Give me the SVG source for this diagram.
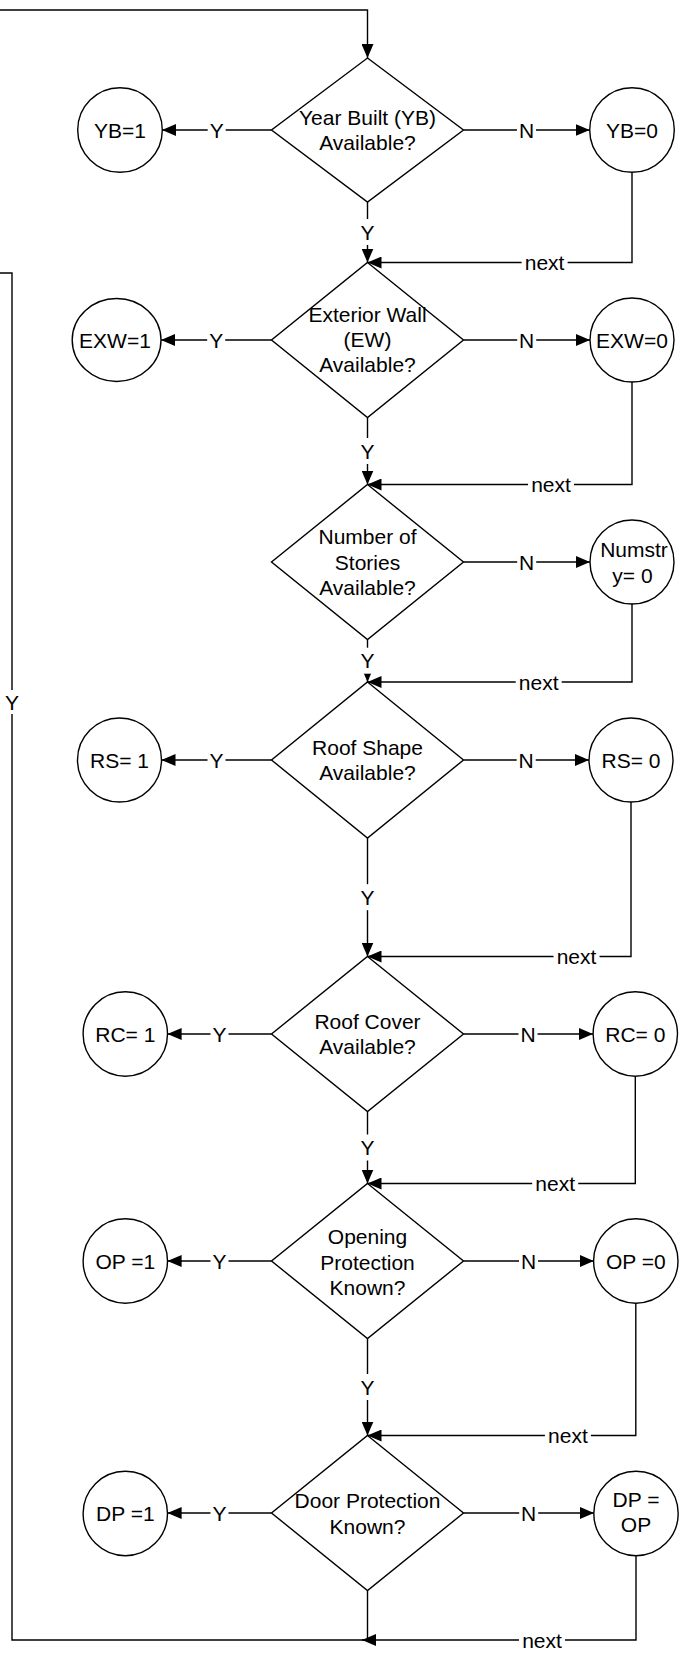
<svg xmlns="http://www.w3.org/2000/svg" width="686" height="1658" viewBox="0 0 686 1658">
  <defs>
    <style>
      .ln { fill: none; stroke: #000; stroke-width: 1.4; }
      .sh { fill: #fff; stroke: #000; stroke-width: 1.4; }
      .bg { fill: #fff; stroke: none; }
      text { font-family: "Liberation Sans", Arial, Helvetica, sans-serif; font-size: 21px; fill: #000; text-anchor: middle; }
    </style>
    <marker id="arr" markerUnits="userSpaceOnUse" markerWidth="14" markerHeight="12" refX="14" refY="6" orient="auto">
      <path d="M0,0 L14,6 L0,12 z" fill="#000"/>
    </marker>
  </defs>
  <rect x="0" y="0" width="686" height="1658" fill="#fff"/>

  <!-- connectors -->
  <g id="connectors">
    <!-- loop entry into the first decision -->
    <path class="ln" d="M0,10 H367.5 V58" marker-end="url(#arr)"/>

    <!-- row 1 -->
    <path class="ln" d="M271.5,130 H162" marker-end="url(#arr)"/>
    <path class="ln" d="M463.5,130 H589.7" marker-end="url(#arr)"/>
    <path class="ln" d="M367.5,202 V262.5" marker-end="url(#arr)"/>
    <path class="ln" d="M632,172.3 V262.5 H367.5" marker-end="url(#arr)"/>

    <!-- row 2 -->
    <path class="ln" d="M271.5,340 H161" marker-end="url(#arr)"/>
    <path class="ln" d="M463.5,340 H590" marker-end="url(#arr)"/>
    <path class="ln" d="M367.5,417.5 V484.5" marker-end="url(#arr)"/>
    <path class="ln" d="M632,382 V484.5 H367.5" marker-end="url(#arr)"/>

    <!-- row 3 -->
    <path class="ln" d="M463.5,562 H590" marker-end="url(#arr)"/>
    <path class="ln" d="M367.5,639.5 V682" marker-end="url(#arr)"/>
    <path class="ln" d="M632,604 V682 H367.5" marker-end="url(#arr)"/>

    <!-- row 4 -->
    <path class="ln" d="M271.5,760 H161.5" marker-end="url(#arr)"/>
    <path class="ln" d="M463.5,760 H589" marker-end="url(#arr)"/>
    <path class="ln" d="M367.5,838 V956.5" marker-end="url(#arr)"/>
    <path class="ln" d="M631,802 V956.5 H367.5" marker-end="url(#arr)"/>

    <!-- row 5 -->
    <path class="ln" d="M271.5,1034 H167.6" marker-end="url(#arr)"/>
    <path class="ln" d="M463.5,1034 H593" marker-end="url(#arr)"/>
    <path class="ln" d="M367.5,1111.5 V1183.5" marker-end="url(#arr)"/>
    <path class="ln" d="M635.3,1076 V1183.5 H367.5" marker-end="url(#arr)"/>

    <!-- row 6 -->
    <path class="ln" d="M271.5,1261 H167.6" marker-end="url(#arr)"/>
    <path class="ln" d="M463.5,1261 H593.8" marker-end="url(#arr)"/>
    <path class="ln" d="M367.5,1338.5 V1435.5" marker-end="url(#arr)"/>
    <path class="ln" d="M635.8,1303 V1435.5 H367.5" marker-end="url(#arr)"/>

    <!-- row 7 -->
    <path class="ln" d="M271.5,1513 H167.6" marker-end="url(#arr)"/>
    <path class="ln" d="M463.5,1513 H594" marker-end="url(#arr)"/>
    <path class="ln" d="M636,1555.5 V1640 H362" marker-end="url(#arr)"/>
    <!-- loop back to the top -->
    <path class="ln" d="M367.5,1590.5 V1640 H12 V273 H0"/>

    <!-- connector labels -->
    <g id="labels">
      <rect class="bg" x="207.7" y="118" width="18" height="24"/><text x="216.7" y="137.5">Y</text>
      <rect class="bg" x="517" y="118" width="19" height="24"/><text x="526.6" y="137.5">N</text>
      <rect class="bg" x="358.5" y="219" width="18" height="26"/><text x="367.5" y="239.5">Y</text>
      <rect class="bg" x="521.6" y="250.5" width="46" height="24"/><text x="544.6" y="270">next</text>

      <rect class="bg" x="207.2" y="328" width="18" height="24"/><text x="216.2" y="347.5">Y</text>
      <rect class="bg" x="517.2" y="328" width="19" height="24"/><text x="526.7" y="347.5">N</text>
      <rect class="bg" x="358.5" y="438" width="18" height="26"/><text x="367.5" y="458.5">Y</text>
      <rect class="bg" x="528" y="472.5" width="46" height="24"/><text x="551" y="492">next</text>

      <rect class="bg" x="517.2" y="550" width="19" height="24"/><text x="526.7" y="569.5">N</text>
      <rect class="bg" x="358.5" y="647.7" width="18" height="26"/><text x="367.5" y="668.2">Y</text>
      <rect class="bg" x="515.7" y="670" width="46" height="24"/><text x="538.7" y="689.5">next</text>

      <rect class="bg" x="207.5" y="748" width="18" height="24"/><text x="216.5" y="767.5">Y</text>
      <rect class="bg" x="516.7" y="748" width="19" height="24"/><text x="526.2" y="767.5">N</text>
      <rect class="bg" x="358.5" y="884.2" width="18" height="26"/><text x="367.5" y="904.7">Y</text>
      <rect class="bg" x="553.5" y="944.5" width="46" height="24"/><text x="576.5" y="964">next</text>

      <rect class="bg" x="210.5" y="1022" width="18" height="24"/><text x="219.5" y="1041.5">Y</text>
      <rect class="bg" x="518.5" y="1022" width="19" height="24"/><text x="528" y="1041.5">N</text>
      <rect class="bg" x="358.5" y="1134.5" width="18" height="26"/><text x="367.5" y="1155">Y</text>
      <rect class="bg" x="532.2" y="1171.5" width="46" height="24"/><text x="555.2" y="1191">next</text>

      <rect class="bg" x="210.5" y="1249" width="18" height="24"/><text x="219.5" y="1268.5">Y</text>
      <rect class="bg" x="519" y="1249" width="19" height="24"/><text x="528.6" y="1268.5">N</text>
      <rect class="bg" x="358.5" y="1374" width="18" height="26"/><text x="367.5" y="1394.5">Y</text>
      <rect class="bg" x="544.9" y="1423.5" width="46" height="24"/><text x="567.9" y="1443">next</text>

      <rect class="bg" x="210.5" y="1501" width="18" height="24"/><text x="219.5" y="1520.5">Y</text>
      <rect class="bg" x="519.2" y="1501" width="19" height="24"/><text x="528.7" y="1520.5">N</text>
      <rect class="bg" x="519" y="1628" width="46" height="24"/><text x="542" y="1647.5">next</text>

      <rect class="bg" x="3" y="690" width="18" height="24"/><text x="12" y="709.5">Y</text>
    </g>
  </g>

  <!-- row 1: year built -->
  <g id="q-year-built">
    <polygon class="sh" points="367.5,58 463.5,130 367.5,202 271.5,130"/>
    <text x="367.5" y="124.5">Year Built (YB)</text>
    <text x="367.5" y="149.5">Available?</text>
  </g>
  <g id="yb-1">
    <circle class="sh" cx="120" cy="130" r="42.3"/>
    <text x="120" y="137.5">YB=1</text>
  </g>
  <g id="yb-0">
    <circle class="sh" cx="632" cy="130" r="42.3"/>
    <text x="632" y="137.5">YB=0</text>
  </g>

  <!-- row 2: exterior wall -->
  <g id="q-exterior-wall">
    <polygon class="sh" points="367.5,262.5 463.5,340 367.5,417.5 271.5,340"/>
    <text x="367.5" y="322">Exterior Wall</text>
    <text x="367.5" y="347">(EW)</text>
    <text x="367.5" y="372">Available?</text>
  </g>
  <g id="exw-1">
    <ellipse class="sh" cx="116.6" cy="340" rx="44.4" ry="41.5"/>
    <text x="115" y="347.5">EXW=1</text>
  </g>
  <g id="exw-0">
    <circle class="sh" cx="632" cy="340" r="42"/>
    <text x="632" y="347.5">EXW=0</text>
  </g>

  <!-- row 3: number of stories -->
  <g id="q-stories">
    <polygon class="sh" points="367.5,484.5 463.5,562 367.5,639.5 271.5,562"/>
    <text x="367.5" y="544">Number of</text>
    <text x="367.5" y="569.5">Stories</text>
    <text x="367.5" y="594.5">Available?</text>
  </g>
  <g id="numstry-0">
    <circle class="sh" cx="632" cy="562" r="42"/>
    <text x="634" y="557">Numstr</text>
    <text x="632.5" y="582.5">y= 0</text>
  </g>

  <!-- row 4: roof shape -->
  <g id="q-roof-shape">
    <polygon class="sh" points="367.5,682 463.5,760 367.5,838 271.5,760"/>
    <text x="367.5" y="755">Roof Shape</text>
    <text x="367.5" y="780">Available?</text>
  </g>
  <g id="rs-1">
    <circle class="sh" cx="119.5" cy="760" r="42"/>
    <text x="119.5" y="767.5">RS= 1</text>
  </g>
  <g id="rs-0">
    <circle class="sh" cx="631" cy="760" r="42"/>
    <text x="631" y="767.5">RS= 0</text>
  </g>

  <!-- row 5: roof cover -->
  <g id="q-roof-cover">
    <polygon class="sh" points="367.5,956.5 463.5,1034 367.5,1111.5 271.5,1034"/>
    <text x="367.5" y="1028.5">Roof Cover</text>
    <text x="367.5" y="1053.5">Available?</text>
  </g>
  <g id="rc-1">
    <circle class="sh" cx="125.3" cy="1034" r="42.2"/>
    <text x="125.3" y="1041.5">RC= 1</text>
  </g>
  <g id="rc-0">
    <circle class="sh" cx="635.3" cy="1034" r="42.2"/>
    <text x="635.3" y="1041.5">RC= 0</text>
  </g>

  <!-- row 6: opening protection -->
  <g id="q-opening-protection">
    <polygon class="sh" points="367.5,1183.5 463.5,1261 367.5,1338.5 271.5,1261"/>
    <text x="367.5" y="1244">Opening</text>
    <text x="367.5" y="1269.5">Protection</text>
    <text x="367.5" y="1294.5">Known?</text>
  </g>
  <g id="op-1">
    <circle class="sh" cx="125.3" cy="1261" r="42.2"/>
    <text x="125.3" y="1268.5">OP =1</text>
  </g>
  <g id="op-0">
    <circle class="sh" cx="635.8" cy="1261" r="42.2"/>
    <text x="635.8" y="1268.5">OP =0</text>
  </g>

  <!-- row 7: door protection -->
  <g id="q-door-protection">
    <polygon class="sh" points="367.5,1435.5 463.5,1513 367.5,1590.5 271.5,1513"/>
    <text x="367.5" y="1508">Door Protection</text>
    <text x="367.5" y="1533.5">Known?</text>
  </g>
  <g id="dp-1">
    <circle class="sh" cx="125.3" cy="1513.5" r="42.2"/>
    <text x="125.3" y="1521">DP =1</text>
  </g>
  <g id="dp-op">
    <circle class="sh" cx="636" cy="1513.5" r="42.2"/>
    <text x="636" y="1507">DP =</text>
    <text x="636" y="1532">OP</text>
  </g>
</svg>
